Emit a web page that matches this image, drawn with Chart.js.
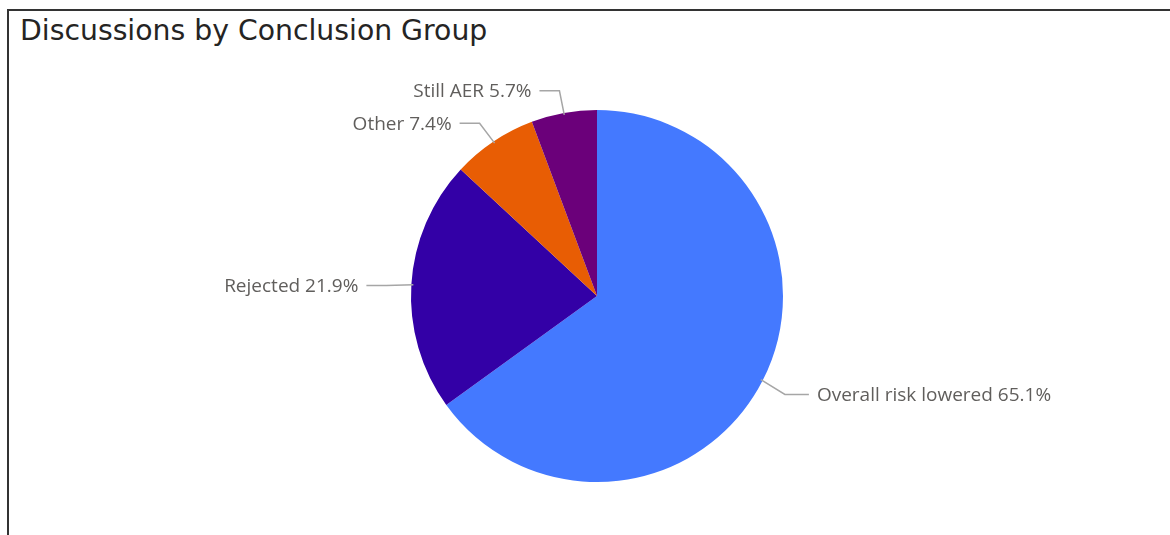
<!DOCTYPE html>
<html>
<head>
<meta charset="utf-8">
<script src="https://cdn.jsdelivr.net/npm/chart.js@4"></script>
<style>
	body { margin: 0; background: #fff; }
	#wrap { position: relative; width: 1170px; height: 535px; overflow: hidden; }
	#frame {
		position: absolute; left: 7px; top: 9px; width: 1200px; height: 600px;
		border-top: 2px solid #333; border-left: 2px solid #333;
	}
	#title {
		position: absolute; left: 20px; top: 14px;
		font-family: 'DejaVu Sans', sans-serif;
		font-size: 28.3px; line-height: 34px; color: #252423; white-space: nowrap;
	}
	canvas { position: absolute; left: 0; top: 0; }
</style>
</head>
<body>
<div id="wrap">
	<div id="frame"></div>
	<div id="title">Discussions by Conclusion Group</div>
	<canvas id="myChart" width="1170" height="535"></canvas>
</div>
<script>
// data, clockwise from 12 o'clock
const groups = ['Overall risk lowered', 'Rejected', 'Other', 'Still AER']
const shares = [65.1, 21.9, 7.4, 5.7]
const sliceColors = ['#4479FF', '#3300A6', '#E85D04', '#6B007A']

// power bi style outside labels with leader lines
const leaderLabels = {
	id: 'leaderLabels',
	afterDatasetsDraw(chart) {
		const ctx = chart.ctx
		const meta = chart.getDatasetMeta(0)
		ctx.save()
		ctx.font = '19px "Open Sans", sans-serif'
		ctx.textBaseline = 'middle'
		meta.data.forEach((arc, i) => {
			const mid = (arc.startAngle + arc.endAngle) / 2
			const r = arc.outerRadius
			const x0 = arc.x + Math.cos(mid) * (r - 2)
			const y0 = arc.y + Math.sin(mid) * (r - 2)
			const x1 = arc.x + Math.cos(mid) * (r + 25)
			const y1 = arc.y + Math.sin(mid) * (r + 25) + 2.5
			const right = Math.cos(mid) >= 0
			const x2 = x1 + (right ? 24 : -20)
			ctx.strokeStyle = '#A6A6A6'
			ctx.lineWidth = 1.5
			ctx.beginPath()
			ctx.moveTo(x0, y0)
			ctx.lineTo(x1, y1)
			ctx.lineTo(x2, y1)
			ctx.stroke()
			ctx.fillStyle = '#605E5C'
			ctx.textAlign = right ? 'left' : 'right'
			ctx.fillText(groups[i] + ' ' + shares[i].toFixed(1) + '%', x2 + (right ? 8 : -8), y1 + 1)
		})
		ctx.restore()
	},
}

const ctx = document.getElementById('myChart').getContext('2d')
const myChart = new Chart(ctx, {
	type: 'pie',
	data: {
		labels: groups,
		datasets: [
			{
				data: shares,
				backgroundColor: sliceColors,
				borderWidth: 0,
			},
		],
	},
	options: {
		responsive: false,
		animation: false,
		layout: {
			padding: { left: 24, right: 0, top: 110, bottom: 53 },
		},
		plugins: {
			legend: { display: false },
			tooltip: { enabled: false },
		},
	},
	plugins: [leaderLabels],
})
</script>
</body>
</html>
